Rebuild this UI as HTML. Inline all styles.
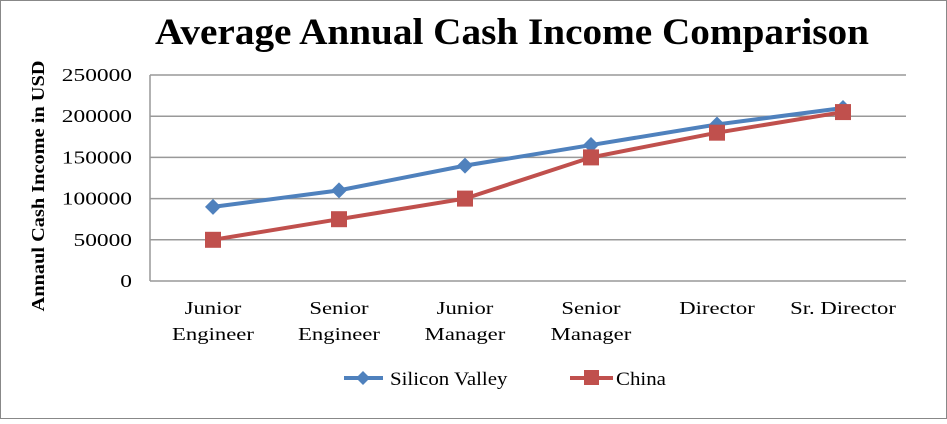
<!DOCTYPE html>
<html><head><meta charset="utf-8"><style>
body{margin:0;background:#fff}
svg text{font-family:"Liberation Serif",serif;fill:#000}
</style></head><body>
<svg id="svg" width="947" height="419">
<rect x="0.5" y="0.5" width="946" height="418" fill="#fff" stroke="#888"/>
<text class="sc" data-f="1.06" x="512" y="44" font-size="37" font-weight="bold" text-anchor="middle">Average Annual Cash Income Comparison</text>
<text class="sc" data-f="1.13" transform="translate(44,186) rotate(-90)" font-size="18" font-weight="bold" text-anchor="middle">Annaul Cash Income in USD</text>
<g id="grid"></g><g id="series"></g>
<g>
<line x1="344" y1="378" x2="383" y2="378" stroke="#4f81bd" stroke-width="4"/>
<polygon points="363,371 370,378 363,385 356,378" fill="#4f81bd"/>
<text class="sc" data-f="1.1" x="390" y="385" font-size="19">Silicon Valley</text>
<line x1="570" y1="378" x2="613" y2="378" stroke="#c0504d" stroke-width="4"/>
<rect x="584" y="370" width="15" height="15" fill="#c0504d"/>
<text class="sc" data-f="1.1" x="616" y="385" font-size="19">China</text>
</g>
</svg>
<script>
const categories=[["Junior","Engineer"],["Senior","Engineer"],["Junior","Manager"],["Senior","Manager"],["Director"],["Sr. Director"]];
const siliconValley=[90000,110000,140000,165000,190000,210000];
const china=[50000,75000,100000,150000,180000,205000];
const ticks=[0,50000,100000,150000,200000,250000];
const NS="http://www.w3.org/2000/svg";
const L=150,R=906,T=75,B=281,MAX=250000;
const xs=i=>L+(R-L)/categories.length*(i+0.5);
const ys=v=>B-(B-T)*v/MAX;
function mk(t,a,p){const e=document.createElementNS(NS,t);for(const k in a)e.setAttribute(k,a[k]);p.appendChild(e);return e;}
const g=document.getElementById('grid');
ticks.forEach(v=>{
 const l=mk('line',{x1:L,x2:R,y1:ys(v),y2:ys(v),stroke:'#999','stroke-width':1.5},g);
 
 
 const t=mk('text',{x:L-18,y:ys(v)+6,'font-size':18,'text-anchor':'end',class:'sc','data-f':1.3},g);
 t.textContent=v;
 
 
});
const ax=mk('line',{x1:L,x2:L,y1:T,y2:B,stroke:'#999','stroke-width':1.5},g);


categories.forEach((c,i)=>{
 c.forEach((w,j)=>{
  const t=mk('text',{x:xs(i),y:314+j*26,'font-size':18,'text-anchor':'middle',class:'sc','data-f':1.26},g);
  t.textContent=w;
  
  
 });
});
const s=document.getElementById('series');
function series(vals,color,shape,name){
 const p=mk('polyline',{points:vals.map((v,i)=>xs(i)+','+ys(v)).join(' '),fill:'none',stroke:color,'stroke-width':4},s);
 
 
 vals.forEach((v,i)=>{
  const x=xs(i),y=ys(v);let m;
  if(shape==='d')m=mk('polygon',{points:`${x},${y-8} ${x+8},${y} ${x},${y+8} ${x-8},${y}`,fill:color},s);
  else m=mk('rect',{x:x-8,y:y-8,width:16,height:16,fill:color},s);
  
  
 });
}
series(siliconValley,'#4f81bd','d','silicon-valley');
series(china,'#c0504d','s','china');
document.querySelectorAll('text.sc').forEach(t=>{
 const w=t.getComputedTextLength()*parseFloat(t.getAttribute('data-f'));
 t.setAttribute('textLength',w);
 t.setAttribute('lengthAdjust','spacingAndGlyphs');
});
</script>
</body></html>
